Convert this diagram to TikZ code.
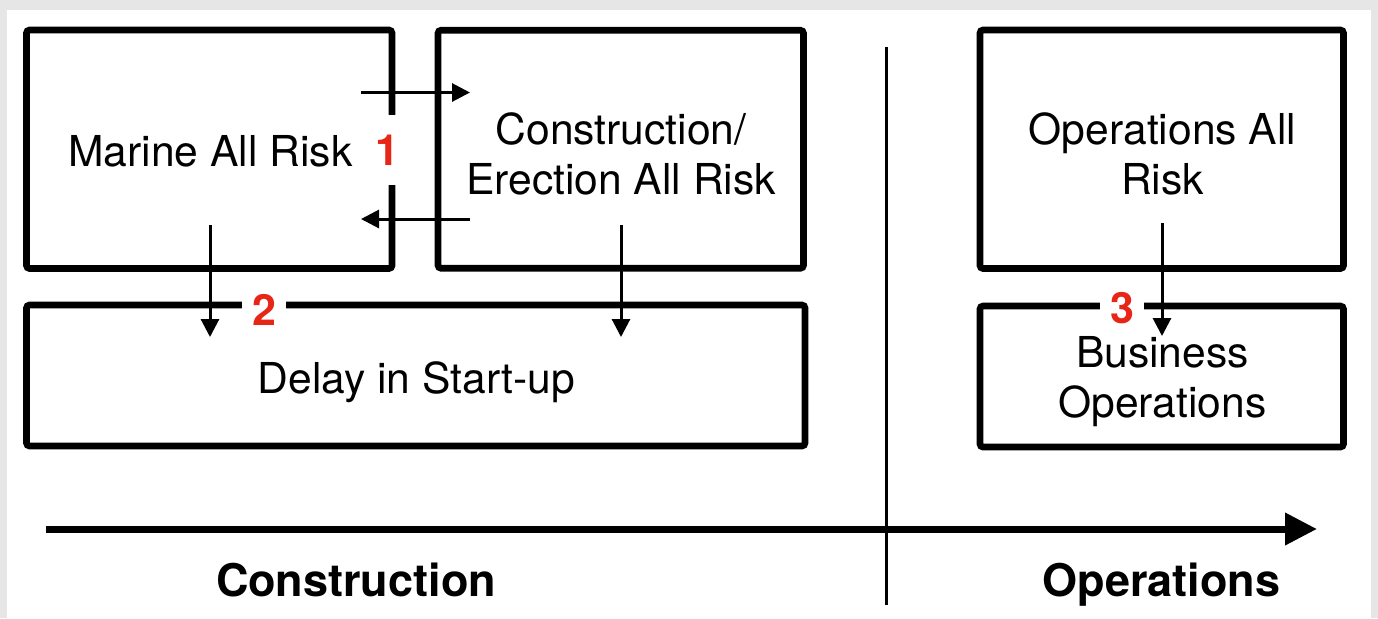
\documentclass[tikz,border=0pt]{standalone}
\usepackage{fontspec}
\setmainfont{TeX Gyre Heros}
\usetikzlibrary{arrows.meta}
\definecolor{numred}{RGB}{232,38,24}
\definecolor{framegray}{RGB}{230,230,230}
\begin{document}
\begin{tikzpicture}[x=0.5pt,y=-0.5pt,
  box/.style={draw, line width=3.3pt, rounded corners=1.5pt, inner sep=0pt},
  lbl/.style={font=\fontsize{21.3}{25}\selectfont, align=center, inner sep=0pt, anchor=base},
  axislbl/.style={font=\fontsize{22.5}{27}\selectfont\bfseries, inner sep=0pt, anchor=base},
  num/.style={font=\fontsize{21.5}{26}\selectfont\bfseries, text=numred, fill=white, inner sep=0pt},
  arr/.style={line width=1.5pt, -{Triangle[length=9pt,width=9pt]}},
  axisarr/.style={line width=3.5pt, -{Triangle[length=16pt,width=15.5pt]}},
  divider/.style={line width=1.7pt}
]
\useasboundingbox (0,0) rectangle (1378,618);
\fill[framegray] (0,0) rectangle (1378,618);
\fill[white] (7,10) rectangle (1371,618);

% boxes
\node[box, minimum width=182.75pt, minimum height=119.25pt] (marine) at (209.25,149.25) {};
\node[box, minimum width=182.75pt, minimum height=119pt] (cear) at (620.75,149.25) {};
\node[box, minimum width=181.75pt, minimum height=119.25pt] (oar) at (1161.75,149.25) {};
\node[box, minimum width=389.25pt, minimum height=70.5pt] (delay) at (415.75,375.5) {};
\node[box, minimum width=181.75pt, minimum height=70.5pt] (bus) at (1161.75,376.5) {};

% texts (base anchor = baseline of the last line)
\node[lbl] (marineT) at (210.5,166) {Marine All Risk};
\node[lbl] (cearT) at (621,194) {Construction/\\Erection All Risk};
\node[lbl] (oarT) at (1162.5,194) {Operations All\\Risk};
\node[lbl] (delayT) at (416.5,393) {Delay in Start-up};
\node[lbl] (busT) at (1162.5,417) {Business\\Operations};

% numbers
\node[num, minimum width=13pt, minimum height=35pt] (n1) at (387.5,150) {1};
\node[num, minimum width=22pt] (n2) at (264,310) {2};
\node[num, minimum width=22pt] (n3) at (1122,308) {3};

% connector ends
\coordinate (r0) at (361,92.5);  \coordinate (r1) at (470,92.5);
\coordinate (l0) at (470,219);   \coordinate (l1) at (361,219);
\coordinate (m0) at (210,225);   \coordinate (m1) at (210,337);
\coordinate (c0) at (621,225);   \coordinate (c1) at (621,337);
\coordinate (o0) at (1162,223);  \coordinate (o1) at (1162,336);

\draw[arr] (r0) -- (r1);
\draw[arr] (l0) -- (l1);
\draw[arr] (m0) -- (m1);
\draw[arr] (c0) -- (c1);
\draw[arr] (o0) -- (o1);

% divider and time axis
\coordinate (dt) at (886.5,47); \coordinate (db) at (886.5,605);
\draw[divider] (dt) -- (db);
\coordinate (a0) at (46,529); \coordinate (a1) at (1317,529);
\draw[axisarr] (a0) -- (a1);

\node[axislbl] (consL) at (356,596) {Construction};
\node[axislbl] (opsL) at (1161.5,596) {Operations};
\end{tikzpicture}
\end{document}
